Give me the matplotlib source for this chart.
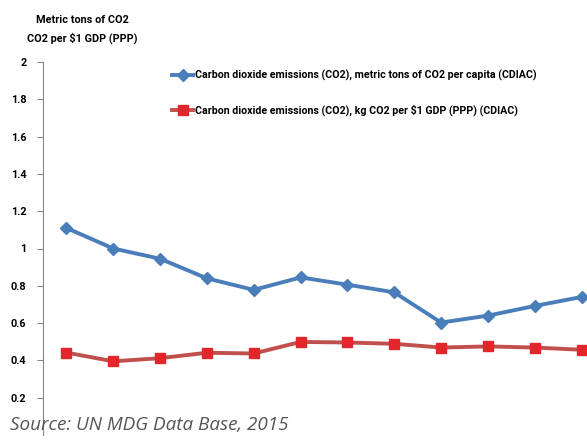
import matplotlib
matplotlib.use("Agg")
import matplotlib.pyplot as plt

# values (12 yearly points, x labels cropped out)
points = list(range(12))
co2_per_capita = [1.11, 1.00, 0.945, 0.84, 0.778, 0.845, 0.806, 0.765, 0.603, 0.64, 0.692, 0.74]
co2_per_gdp = [0.442, 0.395, 0.412, 0.441, 0.437, 0.499, 0.496, 0.489, 0.469, 0.475, 0.469, 0.457]
y_ticks = [0.2, 0.4, 0.6, 0.8, 1.0, 1.2, 1.4, 1.6, 1.8, 2.0]
y_labels = ["0.2", "0.4", "0.6", "0.8", "1", "1.2", "1.4", "1.6", "1.8", "2"]

label_capita = "Carbon dioxide emissions (CO2), metric tons of CO2 per capita (CDIAC)"
label_gdp = "Carbon dioxide emissions (CO2), kg CO2 per $1 GDP (PPP) (CDIAC)"

plt.rcParams['font.family'] = ['Roboto', 'DejaVu Sans']

fig = plt.figure(figsize=(5.87, 4.41), dpi=100)
# axes run past the right and bottom edge like the cropped original
ax = fig.add_axes([43 / 587, 6 / 441, 562 / 587, 373 / 441])

ax.plot(points, co2_per_capita, color='#4a7ebb', lw=2.8, marker='D', ms=6,
        mfc='#4a7ebb', mec='#4a7ebb', label=label_capita)
ax.plot(points, co2_per_gdp, color='#c0504d', lw=2.8, marker='s', ms=7,
        mfc='#e3262b', mec='#e3262b', label=label_gdp)

ax.set_xlim(-0.5, 11.5)
ax.set_ylim(0, 2)
ax.set_yticks(y_ticks)
ax.set_yticklabels(y_labels, fontsize=7.8, fontweight='bold')
ax.set_xticks([])
ax.tick_params(axis='y', length=4, color='#888888', pad=8)
for s in ['top', 'right', 'bottom']:
    ax.spines[s].set_visible(False)
ax.spines['left'].set_color('#888888')

leg = fig.legend(handles=ax.get_lines(), loc='upper left',
                 bbox_to_anchor=(172 / 587, 1 - 70 / 441), frameon=False,
                 borderpad=0, borderaxespad=0, handlelength=2.0, handletextpad=0.15,
                 labelspacing=2.2, prop={'weight': 'bold', 'size': 7.7})

fig.text(82 / 587, 1 - 20 / 441, "Metric tons of CO2", ha='center', va='center',
         fontsize=7.8, fontweight='bold')
fig.text(82 / 587, 1 - 38 / 441, "CO2 per $1 GDP (PPP)", ha='center', va='center',
         fontsize=7.8, fontweight='bold')
fig.text(10 / 587, 1 - 425 / 441, "Source: UN MDG Data Base, 2015", ha='left', va='center',
         fontsize=13.6, style='italic', color='#555555', family=['Open Sans', 'DejaVu Sans'])

fig.savefig("out.png", dpi=100)
